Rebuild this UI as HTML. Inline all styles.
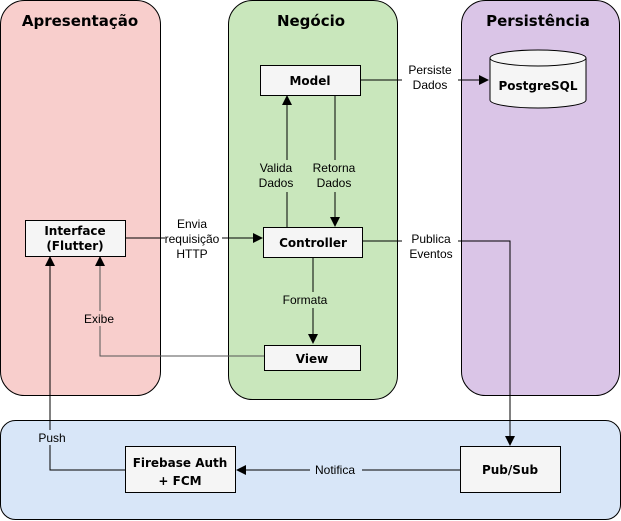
<!DOCTYPE html>
<html><head><meta charset="utf-8"><style>
html,body{margin:0;padding:0;background:#fff;}
svg{display:block;}
.t{font-family:"DejaVu Sans",Verdana,sans-serif;font-weight:bold;fill:#000;}
.l text{font-family:"Liberation Sans",Arial,sans-serif;font-size:12px;fill:#000;}
</style></head><body>
<svg width="621" height="521" viewBox="0 0 621 521" xmlns="http://www.w3.org/2000/svg">
<defs><marker id="a" markerWidth="10" markerHeight="10" refX="9" refY="5" orient="auto" markerUnits="userSpaceOnUse"><path d="M0,0 L10,5 L0,10 Z" fill="#000"/></marker></defs>
<rect x="0.5" y="0.5" width="160" height="395" rx="24" fill="#f8cecc" stroke="#000"/>
<rect x="228.5" y="0.5" width="169" height="399" rx="24" fill="#c9e7bc" stroke="#000"/>
<rect x="461.5" y="0.5" width="158" height="395" rx="24" fill="#dac5e7" stroke="#000"/>
<rect x="0.5" y="420.5" width="620" height="99" rx="15" fill="#d8e6f8" stroke="#000"/>
<text class="t" x="80" y="26" text-anchor="middle" font-size="15">Apresentação</text>
<text class="t" x="311" y="26" text-anchor="middle" font-size="15">Negócio</text>
<text class="t" x="538" y="26" text-anchor="middle" font-size="15">Persistência</text>
<g stroke="#000" fill="none" stroke-width="1">
<path d="M360,80 H402 M458,80 H488" marker-end="url(#a)"/>
<path d="M287,227 V192 M287,160 V96" marker-end="url(#a)"/>
<path d="M335,96 V160 M335,192 V226" marker-end="url(#a)"/>
<path d="M125,238 H165 M222,238 H262" marker-end="url(#a)"/>
<path d="M362,241 H402 M458,241 H510 V445" marker-end="url(#a)"/>
<path d="M313,257 V292 M313,308 V343" marker-end="url(#a)"/>
<path d="M264,356 H100 V326 M100,311 V257" stroke="#555" marker-end="url(#a)"/>
<path d="M125,470 H50 V445 M50,430 V257" marker-end="url(#a)"/>
<path d="M460,470 H362 M310,470 H237" marker-end="url(#a)"/>
</g>
<g fill="#f5f5f5" stroke="#000">
<rect x="260.5" y="65.5" width="100" height="30"/>
<rect x="263.5" y="227.5" width="99" height="30"/>
<rect x="25.5" y="220.5" width="100" height="36"/>
<rect x="264.5" y="345.5" width="96" height="25"/>
<rect x="125.5" y="446.5" width="110" height="46"/>
<rect x="460.5" y="446.5" width="100" height="46"/>
<path d="M490,58 V100 A48,8 0 0 0 586,100 V58 A48,8 0 0 0 490,58 Z"/>
<path d="M490,58 A48,8 0 0 0 586,58" fill="none"/>
</g>
<text class="t" x="310" y="85" text-anchor="middle" font-size="12">Model</text>
<text class="t" x="313" y="247" text-anchor="middle" font-size="12">Controller</text>
<text class="t" x="75" y="235" text-anchor="middle" font-size="12">Interface</text>
<text class="t" x="75" y="250" text-anchor="middle" font-size="12">(Flutter)</text>
<text class="t" x="312" y="363" text-anchor="middle" font-size="12">View</text>
<text class="t" x="180" y="467" text-anchor="middle" font-size="12">Firebase Auth</text>
<text class="t" x="180" y="485" text-anchor="middle" font-size="12">+ FCM</text>
<text class="t" x="510" y="474" text-anchor="middle" font-size="12">Pub/Sub</text>
<text class="t" x="538" y="90" text-anchor="middle" font-size="12">PostgreSQL</text>
<g class="l" text-anchor="middle">
<text x="430" y="74">Persiste</text><text x="430" y="89">Dados</text>
<text x="276" y="172">Valida</text><text x="276" y="187">Dados</text>
<text x="334" y="172">Retorna</text><text x="334" y="187">Dados</text>
<text x="192" y="228">Envia</text><text x="192" y="243">requisição</text><text x="192" y="258">HTTP</text>
<text x="431" y="243">Publica</text><text x="431" y="258">Eventos</text>
<text x="305" y="304">Formata</text>
<text x="99" y="323">Exibe</text>
<text x="52" y="442">Push</text>
<text x="335" y="474">Notifica</text>
</g>
</svg>
</body></html>
